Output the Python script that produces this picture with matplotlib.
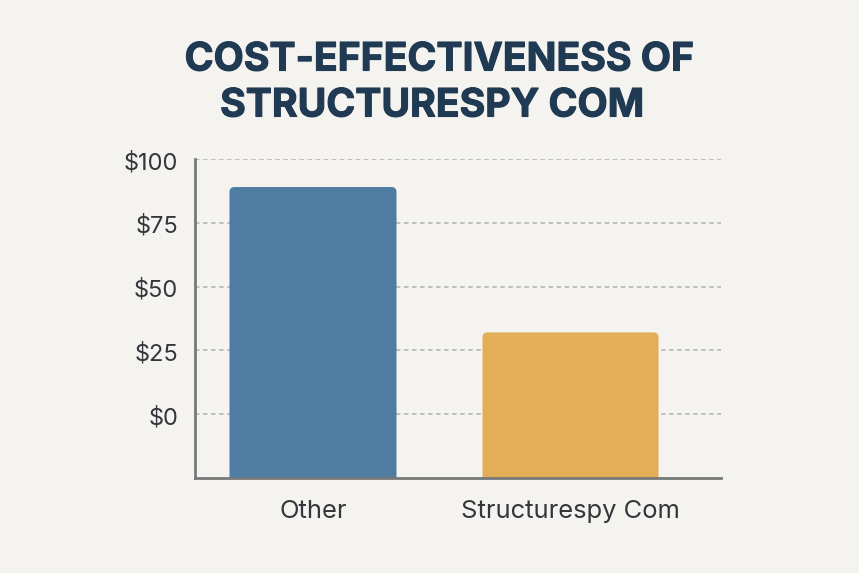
import matplotlib
matplotlib.use("Agg")
import matplotlib.pyplot as plt
import matplotlib.patheffects as pe
from matplotlib.patches import FancyBboxPatch
from matplotlib.transforms import ScaledTranslation

categories = ["Other", "Structurespy Com"]
values = [89, 32]
colors = ["#4f7ca3", "#e4ad57"]
tick_values = [0, 25, 50, 75, 100]
tick_labels = ["$0", "$25", "$50", "$75", "$100"]
title_lines = ["COST-EFFECTIVENESS OF", "STRUCTURESPY COM"]

W, H = 859, 573
plt.rcParams['font.family'] = ['Inter', 'Liberation Sans', 'DejaVu Sans']
fig = plt.figure(figsize=(W/100, H/100), dpi=100, facecolor="#f4f3ef")
ax = fig.add_axes([195/W, 1-478/H, (721-195)/W, (478-159)/H], facecolor="#f4f3ef")

# y: $100 at px 159, $0 at px 414 -> 2.55 px/unit
ymin = -(478-414)/2.55
ax.set_ylim(ymin, 100)
ax.set_xlim(0, 526)
centers = [118, 375.5]
widths = [167, 176]
for v in tick_values:
    ax.axhline(v, color="#bcbcb7", lw=1.3, ls=(0, (2.5, 1.95)), zorder=1)
for c, w, v, col in zip(centers, widths, values, colors):
    # the bar runs past the axis floor, so only its top corners stay rounded
    y0 = ymin - 10
    p = FancyBboxPatch((c-w/2, y0), w, v - y0, boxstyle="round,pad=0,rounding_size=5",
                       mutation_aspect=1/2.55, fc=col, ec="none", zorder=2)
    ax.add_patch(p)
ax.set_yticks(tick_values, tick_labels)
ax.set_xticks(centers, categories)
ax.tick_params(axis='x', length=0, labelsize=18.4, labelcolor="#33373b", pad=16)
ax.tick_params(axis='y', length=0, labelsize=17, labelcolor="#33373b", pad=12)
shift = ScaledTranslation(0, -1.0/72, fig.dpi_scale_trans)
for lab in ax.get_yticklabels():
    lab.set_transform(lab.get_transform() + shift)
for s in ["top", "right"]:
    ax.spines[s].set_visible(False)
for s in ["left", "bottom"]:
    ax.spines[s].set_color("#77797a")
    ax.spines[s].set_linewidth(2)
    ax.spines[s].set_zorder(5)
for line, x, y in zip(title_lines, [439, 432], [60, 106]):
    fig.text(x/W, 1-y/H, line, ha="center", va="center", fontsize=28.2, fontweight="bold",
             color="#1f3a52",
             path_effects=[pe.withStroke(linewidth=0.8, foreground="#1f3a52")])
fig.savefig("out.png", dpi=100, facecolor=fig.get_facecolor())
